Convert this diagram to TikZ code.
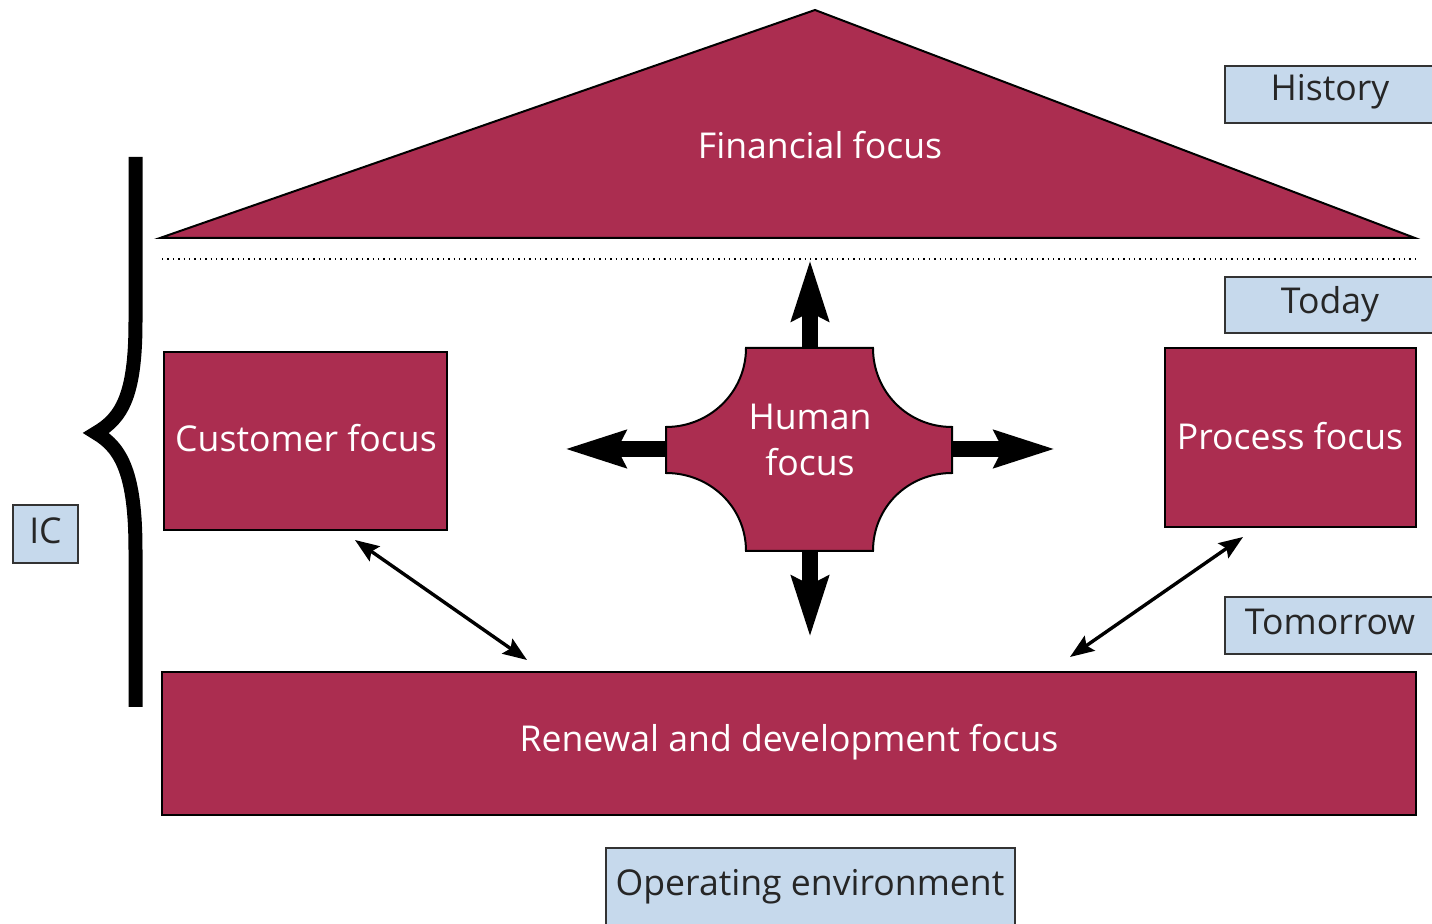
\documentclass[tikz,border=0pt]{standalone}
\usepackage{fontspec}
\setmainfont{Open Sans}
\usetikzlibrary{arrows.meta}
\definecolor{maroon}{RGB}{171,45,80}
\definecolor{lblue}{RGB}{198,217,236}
\tikzset{
  focusbox/.style={draw=black, line width=1pt, fill=maroon},
  lblbox/.style={draw=black!80, line width=1pt, fill=lblue},
  wtext/.style={text=white, font=\fontsize{17.8}{23}\selectfont, align=center},
  btext/.style={text=black!85, font=\fontsize{17.8}{23}\selectfont},
  bigarrow/.style={line width=8pt, -{Stealth[length=30pt, width=18pt, inset=4pt]}},
  thinarrow/.style={line width=1.7pt, {Stealth[length=12pt, width=9pt, inset=2pt]}-{Stealth[length=12pt, width=9pt, inset=2pt]}},
}
\begin{document}
\begin{tikzpicture}[x=0.5pt, y=-0.5pt]
\clip (0,0) rectangle (1432,924);
\fill[white] (0,0) rectangle (1432,924);
% roof
\draw[focusbox] (160,238) -- (815,10) -- (1415,238) -- cycle;
\node[wtext] (fin) at (820,145) {Financial focus};
% dotted line
\coordinate (dl) at (162,259);
\coordinate (dr) at (1420,259);
\draw[dotted, line width=0.7pt] (dl) -- (dr);
% label boxes on right
\draw[lblbox] (1225,66) rectangle (1445,123);
\node[btext] (hist) at (1330,92) {History};
\draw[lblbox] (1225,277) rectangle (1445,333);
\node[btext] (today) at (1330,304) {Today};
\draw[lblbox] (1225,597) rectangle (1445,654);
\node[btext] (tom) at (1330,622) {Tomorrow};
% IC
\draw[lblbox] (13,505) rectangle (78,563);
\node[btext] (ic) at (45.5,531) {IC};
% brace
\coordinate (bt) at (135.5,157);
\coordinate (bb) at (135.5,707);
\draw[line width=7pt] (bt) -- (135.5,322) .. controls (135.5,395) and (122,418) .. (96,433) .. controls (122,448) and (135.5,475) .. (135.5,550) -- (bb);
% boxes
\draw[focusbox] (164,352) rectangle (447,530);
\node[wtext] (cust) at (306,438) {Customer focus};
\draw[focusbox] (1165,348) rectangle (1416,527);
\node[wtext] (proc) at (1290,436) {Process focus};
\draw[focusbox] (162,672) rectangle (1416,815);
\node[wtext] (ren) at (789,742) {Renewal and development focus};
\draw[lblbox] (606,848) rectangle (1015,940);
\node[btext] (op) at (810,887) {Operating environment};
% human focus
\coordinate (hN) at (810,348);
\coordinate (hS) at (810,551);
\coordinate (hW) at (666,449);
\coordinate (hE) at (952,449);
\coordinate (tN) at (810,260);
\coordinate (tS) at (810,637);
\coordinate (tW) at (565,449);
\coordinate (tE) at (1055,449);
\draw[bigarrow] (hN) -- (tN);
\draw[bigarrow] (hS) -- (tS);
\draw[bigarrow] (hW) -- (tW);
\draw[bigarrow] (hE) -- (tE);
\draw[focusbox] (746,348) -- (873,348) .. controls (873,392) and (908,427) .. (952,427) -- (952,473) .. controls (908,473) and (873,507) .. (873,551) -- (746,551) .. controls (746,507) and (710,473) .. (666,473) -- (666,427) .. controls (710,427) and (746,392) .. (746,348) -- cycle;
\node[wtext] (hum) at (810,440) {Human\\focus};
% thin arrows
\coordinate (c1) at (355,540);
\coordinate (r1) at (527,660);
\coordinate (p1) at (1243,537);
\coordinate (r2) at (1070,657);
\draw[thinarrow] (c1) -- (r1);
\draw[thinarrow] (p1) -- (r2);
\end{tikzpicture}
\end{document}
